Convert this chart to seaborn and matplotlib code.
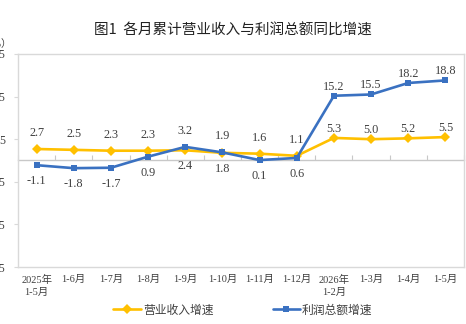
import matplotlib
matplotlib.use("Agg")
import matplotlib.pyplot as plt
from matplotlib.lines import Line2D
import seaborn as sns
import pandas as pd
import numpy as np

categories = ["2025年\n1-5月", "1-6月", "1-7月", "1-8月", "1-9月", "1-10月",
              "1-11月", "1-12月", "2026年\n1-2月", "1-3月", "1-4月", "1-5月"]
revenue = [2.7, 2.5, 2.3, 2.3, 2.4, 1.8, 1.6, 1.1, 5.3, 5.0, 5.2, 5.5]
profit = [-1.1, -1.8, -1.7, 0.9, 3.2, 1.9, 0.1, 0.6, 15.2, 15.5, 18.2, 18.8]
revenue_name = "营业收入增速"
profit_name = "利润总额增速"
yticks = [-25, -15, -5, 5, 15, 25]

# label side: +1 above, -1 below
revenue_side = [1, 1, 1, 1, -1, -1, 1, 1, 1, 1, 1, 1]
profit_side = [-1, -1, -1, -1, 1, 1, -1, -1, 1, 1, 1, 1]

sns.set_theme(style="white")
plt.rcParams['font.family'] = ['Liberation Serif', 'Noto Sans CJK SC', 'DejaVu Sans']

YELLOW = "#FFC000"
BLUE = "#3A71C1"
GRAY = "#D9D9D9"
ZERO = "#C8C8C8"
TXT = "#404040"

fig = plt.figure(figsize=(4.66, 3.24), dpi=100)
ax = fig.add_axes([18/466, 1-267/324, (464-18)/466, (267-54)/324])

x = np.arange(len(categories))
df = pd.DataFrame({
    "x": np.concatenate([x, x]),
    "v": revenue + profit,
    "s": [revenue_name]*len(x) + [profit_name]*len(x),
})

# zero line with category boundary ticks
sec = ax.secondary_xaxis(0.5)
for sp in sec.spines.values():
    sp.set_color(ZERO)
    sp.set_linewidth(1.0)
sec.set_xticks(np.arange(len(categories)+1) - 0.5)
sec.tick_params(axis="x", direction="out", length=3.5, width=0.8, color=ZERO,
                labelbottom=False, labeltop=False)

sns.lineplot(data=df[df.s == revenue_name], x="x", y="v", color=YELLOW, lw=1.9,
             marker="D", markersize=4.8, markeredgewidth=0, ax=ax, legend=False, zorder=3)
sns.lineplot(data=df[df.s == profit_name], x="x", y="v", color=BLUE, lw=1.9,
             marker="s", markersize=4.3, markeredgewidth=0, ax=ax, legend=False, zorder=4)

ax.set_xlim(-0.5, len(categories)-0.5)
ax.set_ylim(-25, 25)
ax.set_xlabel("")
ax.set_ylabel("")

for sp in ax.spines.values():
    sp.set_color(GRAY)
    sp.set_linewidth(1.0)

ax.set_yticks(yticks)
ax.set_yticklabels([str(t) for t in yticks])
ax.tick_params(axis="y", left=True, length=3, width=0.8, color=GRAY, pad=6,
               labelsize=8.5, labelcolor=TXT)
ax.set_xticks(x)
ax.set_xticklabels(categories, fontsize=7.5, color=TXT, linespacing=1.3,
                   family=['Liberation Serif', 'Noto Sans CJK SC'])
ax.tick_params(axis="x", bottom=False, length=0, pad=6)

def offset(i, side):
    if i >= 8:
        return 9 if side > 0 else -12
    return 16 if side > 0 else -16

for i, (v, s) in enumerate(zip(revenue, revenue_side)):
    ax.annotate(f"{v:.1f}", (x[i], v), xytext=(0, offset(i, s)), textcoords="offset pixels",
                ha="center", va="center", fontsize=8.8, color=TXT)
for i, (v, s) in enumerate(zip(profit, profit_side)):
    ax.annotate(f"{v:.1f}", (x[i], v), xytext=(0, offset(i, s)), textcoords="offset pixels",
                ha="center", va="center", fontsize=8.8, color=TXT)

fig.text(233/466, 1-31/324, "图1  各月累计营业收入与利润总额同比增速", ha="center", va="center",
         fontsize=10.5, color="#222222", family=['Noto Sans CJK SC'])
fig.text(12/466, 1-44/324, "（%）", ha="right", va="center", fontsize=7.5, color=TXT,
         family=['Liberation Serif', 'Noto Sans CJK SC'])

handles = [Line2D([], [], color=YELLOW, lw=1.9, marker="D", markersize=4.8, markeredgewidth=0),
           Line2D([], [], color=BLUE, lw=1.9, marker="s", markersize=4.3, markeredgewidth=0)]
fig.legend(handles, [revenue_name, profit_name], loc="center", bbox_to_anchor=(243/466, 1-310/324),
           ncol=2, frameon=False, handlelength=2.3, handletextpad=0.2, columnspacing=5.0,
           prop={'family': ['Noto Sans CJK SC'], 'size': 8.5}, labelcolor=TXT)

fig.savefig("out.png", dpi=100)
